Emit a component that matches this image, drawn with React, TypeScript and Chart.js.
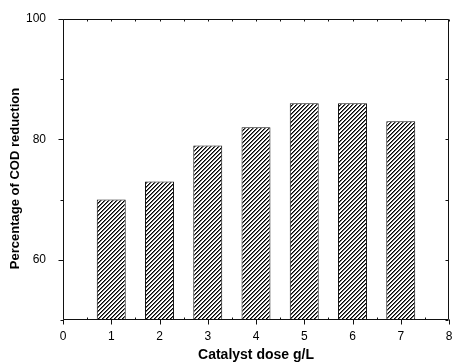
import { useEffect, useRef } from 'react';
import { Chart, registerables } from 'chart.js';

Chart.register(...registerables);

const doses = [1, 2, 3, 4, 5, 6, 7];
const codReduction = [70, 73, 79, 82, 86, 86, 83];
const yLabeledTicks = [60, 80, 100];
const xTickLabels = ['0', '1', '2', '3', '4', '5', '6', '7', '8'];

const FONT = '"Liberation Sans", Arial, Helvetica, sans-serif';

function makeHatch(ctx: CanvasRenderingContext2D): CanvasPattern | string {
  const c = document.createElement('canvas');
  c.width = 4;
  c.height = 4;
  const g = c.getContext('2d');
  if (!g) return '#888';
  g.fillStyle = '#fff';
  g.fillRect(0, 0, 4, 4);
  for (let x = 0; x < 4; x++) {
    for (let y = 0; y < 4; y++) {
      const m = (x + y) % 4;
      if (m === 0) {
        g.fillStyle = '#000';
        g.fillRect(x, y, 1, 1);
      } else if (m === 1) {
        g.fillStyle = '#666';
        g.fillRect(x, y, 1, 1);
      }
    }
  }
  return ctx.createPattern(c, 'repeat') || '#888';
}

const framePlugin = {
  id: 'frame',
  afterDraw(chart: any) {
    const { ctx, chartArea: a, scales } = chart;
    const xs = scales.x;
    const ys = scales.y;
    const L = Math.round(a.left) + 0.5;
    const R = Math.round(a.right) - 0.5;
    const T = Math.round(a.top) + 0.5;
    const B = Math.round(a.bottom) - 0.5;
    ctx.save();
    ctx.strokeStyle = '#111';
    ctx.lineWidth = 1;
    ctx.beginPath();
    ctx.rect(L, T, R - L, B - T);
    for (const t of ys.ticks) {
      const v = t.value;
      const py = Math.round(ys.getPixelForValue(v)) + 0.5;
      const major = yLabeledTicks.includes(v);
      const len = major ? 5 : 3;
      ctx.moveTo(L - len, py);
      ctx.lineTo(L, py);
      ctx.moveTo(R, py);
      ctx.lineTo(R - 3, py);
    }
    for (const t of xs.ticks) {
      const v = t.value;
      const px = Math.round(xs.getPixelForValue(v)) + 0.5;
      ctx.moveTo(px, B);
      ctx.lineTo(px, B + 5);
      ctx.moveTo(px, T);
      ctx.lineTo(px, T + 2);
      if (v < xs.max) {
        const hx = Math.round(xs.getPixelForValue(v + 0.5)) + 0.5;
        ctx.moveTo(hx, B);
        ctx.lineTo(hx, B - 2);
        ctx.moveTo(hx, T);
        ctx.lineTo(hx, T + 2);
      }
    }
    ctx.stroke();
    ctx.restore();
  },
};

export default function App() {
  const ref = useRef<HTMLCanvasElement>(null);

  useEffect(() => {
    const canvas = ref.current;
    if (!canvas) return;
    const ctx = canvas.getContext('2d');
    if (!ctx) return;
    const hatch = makeHatch(ctx);

    const chart = new Chart(canvas, {
      type: 'bar',
      data: {
        datasets: [
          {
            data: doses.map((d, i) => ({ x: d, y: codReduction[i] })),
            backgroundColor: hatch as any,
            borderColor: '#111',
            borderWidth: 1,
            barPercentage: 0.6,
            categoryPercentage: 1,
          },
        ],
      },
      options: {
        responsive: false,
        animation: false,
        devicePixelRatio: 1,
        layout: { padding: { top: 19, right: 3, left: 0, bottom: 0 } },
        plugins: {
          legend: { display: false },
          tooltip: { enabled: false },
        },
        scales: {
          x: {
            type: 'linear',
            min: 0,
            max: 8,
            offset: false,
            grid: { display: false },
            border: { display: false },
            ticks: {
              stepSize: 1,
              padding: 1,
              color: '#000',
              font: { family: FONT, size: 12 },
              maxRotation: 0,
              callback: (v: any) => xTickLabels[Number(v)] ?? '',
            },
            title: {
              display: true,
              text: 'Catalyst dose g/L',
              color: '#000',
              font: { family: FONT, size: 14, weight: 'bold' },
              padding: { top: 0, bottom: 0 },
            },
            afterFit: (s: any) => {
              s.height = 44;
              s.paddingLeft = 0;
              s.paddingRight = 0;
            },
          },
          y: {
            min: 50,
            max: 100,
            grid: { display: false },
            border: { display: false },
            ticks: {
              stepSize: 10,
              padding: 9,
              color: '#000',
              font: { family: FONT, size: 12 },
              callback: (v: any) => (yLabeledTicks.includes(Number(v)) ? String(v) : ''),
            },
            title: {
              display: true,
              text: 'Percentage of COD reduction\u00a0\u00a0\u00a0\u00a0\u00a0',
              color: '#000',
              font: { family: FONT, size: 13, weight: 'bold' },
              padding: { top: 8, bottom: 0 },
            },
            afterFit: (s: any) => {
              s.width = 63;
              s.paddingTop = 0;
              s.paddingBottom = 0;
            },
          },
        },
      },
      plugins: [framePlugin],
    });

    return () => chart.destroy();
  }, []);

  return (
    <div style={{ position: 'absolute', left: 0, top: 0, width: 452, height: 364, background: '#fff' }}>
      <canvas ref={ref} width={452} height={364} style={{ display: 'block' }} />
    </div>
  );
}
